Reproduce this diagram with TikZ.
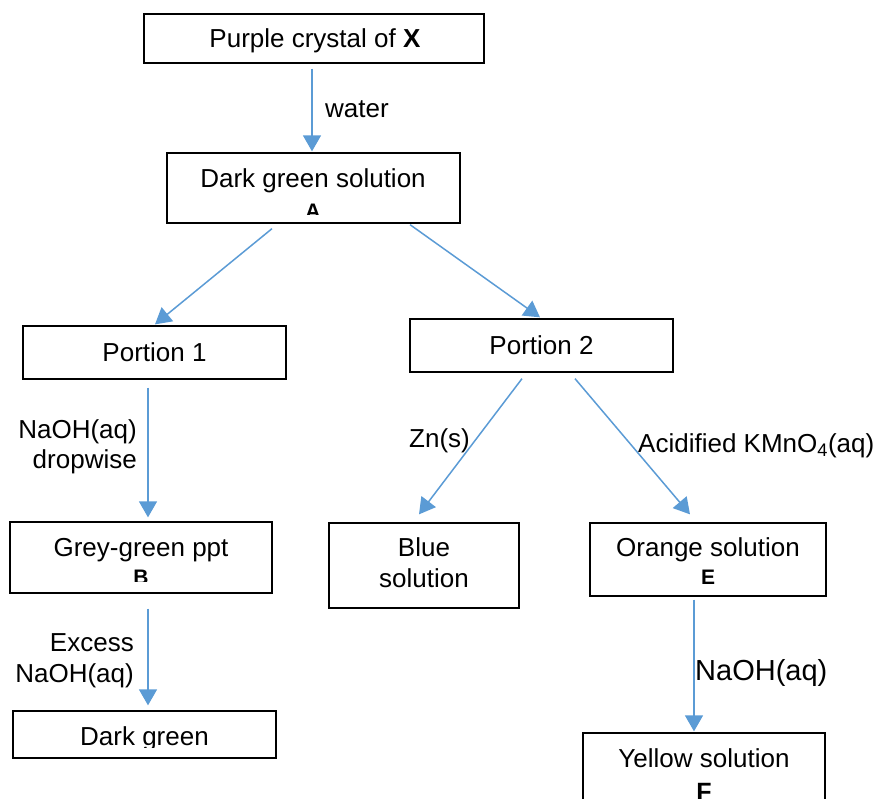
\documentclass[tikz,border=0pt]{standalone}
\usepackage{fontspec}
\setmainfont{Liberation Sans}
\usetikzlibrary{arrows.meta}
\definecolor{arrblue}{RGB}{91,155,213}
\begin{document}
\begin{tikzpicture}[x=1pt,y=-1pt,
  box/.style={draw=black,line width=1.3pt,inner sep=0pt,rectangle},
  txt/.style={inner sep=0pt,anchor=base,font=\fontsize{26}{30}\selectfont},
  lbl/.style={inner sep=0pt,font=\fontsize{26}{30}\selectfont},
  lett/.style={inner sep=0pt,anchor=base,font=\fontsize{21}{25}\selectfont\bfseries},
  arr/.style={draw=arrblue,line width=1.5pt,-{Triangle[length=16pt,width=18pt]}}]
\useasboundingbox (0,0) rectangle (879,799);
\clip (0,0) rectangle (879,799);

% boxes
\node[box,minimum width=340pt,minimum height=49pt] (X) at (314,38.5) {};
\node[box,minimum width=293pt,minimum height=70pt] (A) at (313.5,188) {};
\node[box,minimum width=263pt,minimum height=53pt] (P1) at (154.5,352.5) {};
\node[box,minimum width=263pt,minimum height=53pt] (P2) at (541.5,345.5) {};
\node[box,minimum width=262pt,minimum height=71pt] (B) at (141,557.5) {};
\node[box,minimum width=190pt,minimum height=85pt] (C) at (424,565.5) {};
\node[box,minimum width=236pt,minimum height=73pt] (E) at (708,559.5) {};
\node[box,minimum width=263pt,minimum height=47pt] (D) at (144.5,734.5) {};
\node[box,minimum width=242pt,minimum height=97pt] (F) at (704,781.5) {};

% texts
\node[txt] (Xt) at (315,48) {Purple crystal of \textbf{X}};
\node[txt] (At1) at (313,188) {Dark green solution};
\begin{scope}
  \clip (167,153) rectangle (460,215);
  \node[lett] (At2) at (313,219) {A};
\end{scope}
\node[txt] (P1t) at (154.5,362) {Portion 1};
\node[txt] (P2t) at (541.5,355) {Portion 2};
\node[txt] (Bt1) at (141,557) {Grey-green ppt};
\begin{scope}
  \clip (10,522) rectangle (272,582);
  \node[lett] (Bt2) at (141,585) {B};
\end{scope}
\node[txt] (Ct1) at (424,557) {Blue};
\node[txt] (Ct2) at (424,587) {solution};
\node[txt] (Et1) at (708,557) {Orange solution};
\node[lett] (Et2) at (708,585) {E};
\begin{scope}
  \clip (13,711) rectangle (276,747);
  \node[txt] (Dt) at (144.5,745) {Dark green};
\end{scope}
\node[txt] (Ft1) at (704,767) {Yellow solution};
\node[lett,font=\fontsize{25}{29}\selectfont\bfseries] (Ft2) at (704,800) {F};

% arrows
\draw[arr] ([shift={(-2,5)}]X.south) -- ([shift={(-1.5,-1)}]A.north);
\draw[arr] ([shift={(-41.5,5)}]A.south) -- ([shift={(0.5,-1)}]P1.north);
\draw[arr] ([shift={(96.5,1)}]A.south) -- ([shift={(-1.5,-1)}]P2.north);
\draw[arr] ([shift={(-6.5,8)}]P1.south) -- ([shift={(7,-4)}]B.north);
\draw[arr] ([shift={(7,15)}]B.south) -- ([shift={(3.5,-5)}]D.north);
\draw[arr] ([shift={(-19.5,6)}]P2.south) -- ([shift={(-5,-8)}]C.north);
\draw[arr] ([shift={(33.5,6)}]P2.south) -- ([shift={(-18,-8)}]E.north);
\draw[arr] ([shift={(-14,3)}]E.south) -- ([shift={(-10,-1)}]F.north);

% labels
\node[lbl,anchor=base west] (lw) at (325,118) {water};
\node[lbl,anchor=base east] (ln1) at (137,439) {NaOH(aq)};
\node[lbl,anchor=base east] (ln2) at (137,469) {dropwise};
\node[lbl,anchor=base east] (le1) at (134,651) {Excess};
\node[lbl,anchor=base east] (le2) at (134,682) {NaOH(aq)};
\node[lbl,anchor=base west] (lz) at (409,448) {Zn(s)};
\node[lbl,anchor=base west] (lk) at (638,453) {Acidified KMnO\textsubscript{4}(aq)};
\node[lbl,anchor=base west,font=\fontsize{29}{33}\selectfont] (lf) at (695,680) {NaOH(aq)};
\end{tikzpicture}
\end{document}
